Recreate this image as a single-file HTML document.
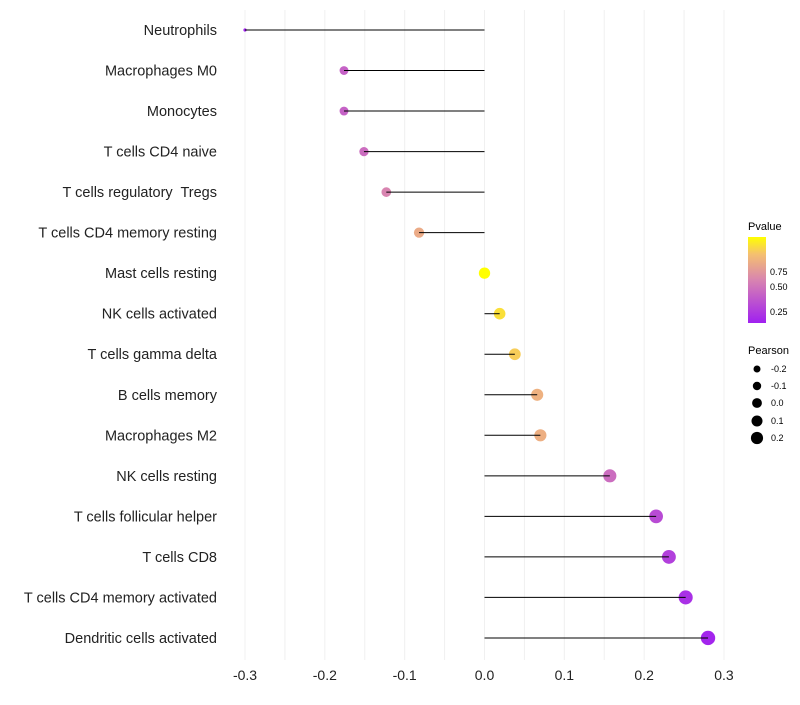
<!DOCTYPE html>
<html><head><meta charset="utf-8"><style>
body{margin:0;background:#fff;font-family:"Liberation Sans",sans-serif}
text{white-space:pre}
</style></head><body>
<svg id="c" width="800" height="700" xmlns="http://www.w3.org/2000/svg">
<defs><linearGradient id="pg" x1="0" y1="1" x2="0" y2="0">
<stop offset="0" stop-color="#a020f0"/><stop offset="0.5" stop-color="#d884b0"/><stop offset="0.8" stop-color="#f5c070"/><stop offset="1" stop-color="#ffff00"/></linearGradient></defs>
<g id="grid"></g><g id="marks"></g><g id="labels"></g>
<g font-size="10" fill="#000">
<text x="748" y="230" font-size="11">Pvalue</text>
<rect x="748" y="237" width="18" height="86" fill="url(#pg)"/>
<text x="770" y="275" font-size="9">0.75</text>
<text x="770" y="290" font-size="9">0.50</text>
<text x="770" y="315" font-size="9">0.25</text>
<text x="748" y="354" font-size="11">Pearson</text>
<circle cx="757" cy="369" r="3.5"/><text x="771" y="372" font-size="9">-0.2</text>
<circle cx="757" cy="386" r="4.2"/><text x="771" y="389" font-size="9">-0.1</text>
<circle cx="757" cy="403" r="4.9"/><text x="771" y="406" font-size="9">0.0</text>
<circle cx="757" cy="421" r="5.5"/><text x="771" y="424" font-size="9">0.1</text>
<circle cx="757" cy="438" r="6.1"/><text x="771" y="441" font-size="9">0.2</text>
</g>
</svg>
<script>
const categories=["Neutrophils","Macrophages M0","Monocytes","T cells CD4 naive","T cells regulatory  Tregs","T cells CD4 memory resting","Mast cells resting","NK cells activated","T cells gamma delta","B cells memory","Macrophages M2","NK cells resting","T cells follicular helper","T cells CD8","T cells CD4 memory activated","Dendritic cells activated"];
const pearson=[-0.3,-0.176,-0.176,-0.151,-0.123,-0.082,0.0,0.019,0.038,0.066,0.070,0.157,0.215,0.231,0.252,0.280];
const pvalues=[0.11,0.40,0.40,0.45,0.55,0.72,0.99,0.90,0.85,0.75,0.74,0.45,0.30,0.25,0.18,0.13];
const ticks=[-0.3,-0.2,-0.1,0,0.1,0.2,0.3];
const NS="http://www.w3.org/2000/svg";
const x=v=>484.5+v*798.3;
const y=i=>30+i*40.53;
const rad=v=>v<=-0.29?1.6:Math.sqrt(Math.max(2.5,32+70*v));
function col(p){const t=Math.max(0,Math.min(1,(p-0.11)/0.88));
const st=[[0,[160,32,240]],[0.5,[216,132,176]],[0.8,[245,192,112]],[1,[255,255,0]]];
for(let k=1;k<st.length;k++){if(t<=st[k][0]){const a=st[k-1],b=st[k],f=(t-a[0])/(b[0]-a[0]);
return "rgb("+a[1].map((c,j)=>Math.round(c+(b[1][j]-c)*f)).join(",")+")";}}return "rgb(255,255,0)";}
function mk(tag,at,par){const e=document.createElementNS(NS,tag);for(const k in at)e.setAttribute(k,at[k]);document.getElementById(par).appendChild(e);return e;}
for(let g=-0.3;g<=0.301;g+=0.05){const l=mk("line",{x1:x(g),x2:x(g),y1:10,y2:660,stroke:"#f0f0f0","stroke-width":1},"grid");

}
ticks.forEach(t=>{const e=mk("text",{x:x(t),y:680,"text-anchor":"middle","font-size":14,fill:"#222"},"labels");e.textContent=(t===0?"0.0":t.toFixed(1));

});
categories.forEach((c,i)=>{
const cc=mk("circle",{cx:x(pearson[i]),cy:y(i),r:rad(pearson[i]),fill:col(pvalues[i])},"marks");


const l=mk("line",{x1:x(0),x2:x(pearson[i]),y1:y(i),y2:y(i),stroke:"#000","stroke-width":1},"marks");


const t=mk("text",{x:217,y:y(i)+5,"text-anchor":"end","font-size":14.5,fill:"#222"},"labels");t.textContent=c;

});
</script>
</body></html>
